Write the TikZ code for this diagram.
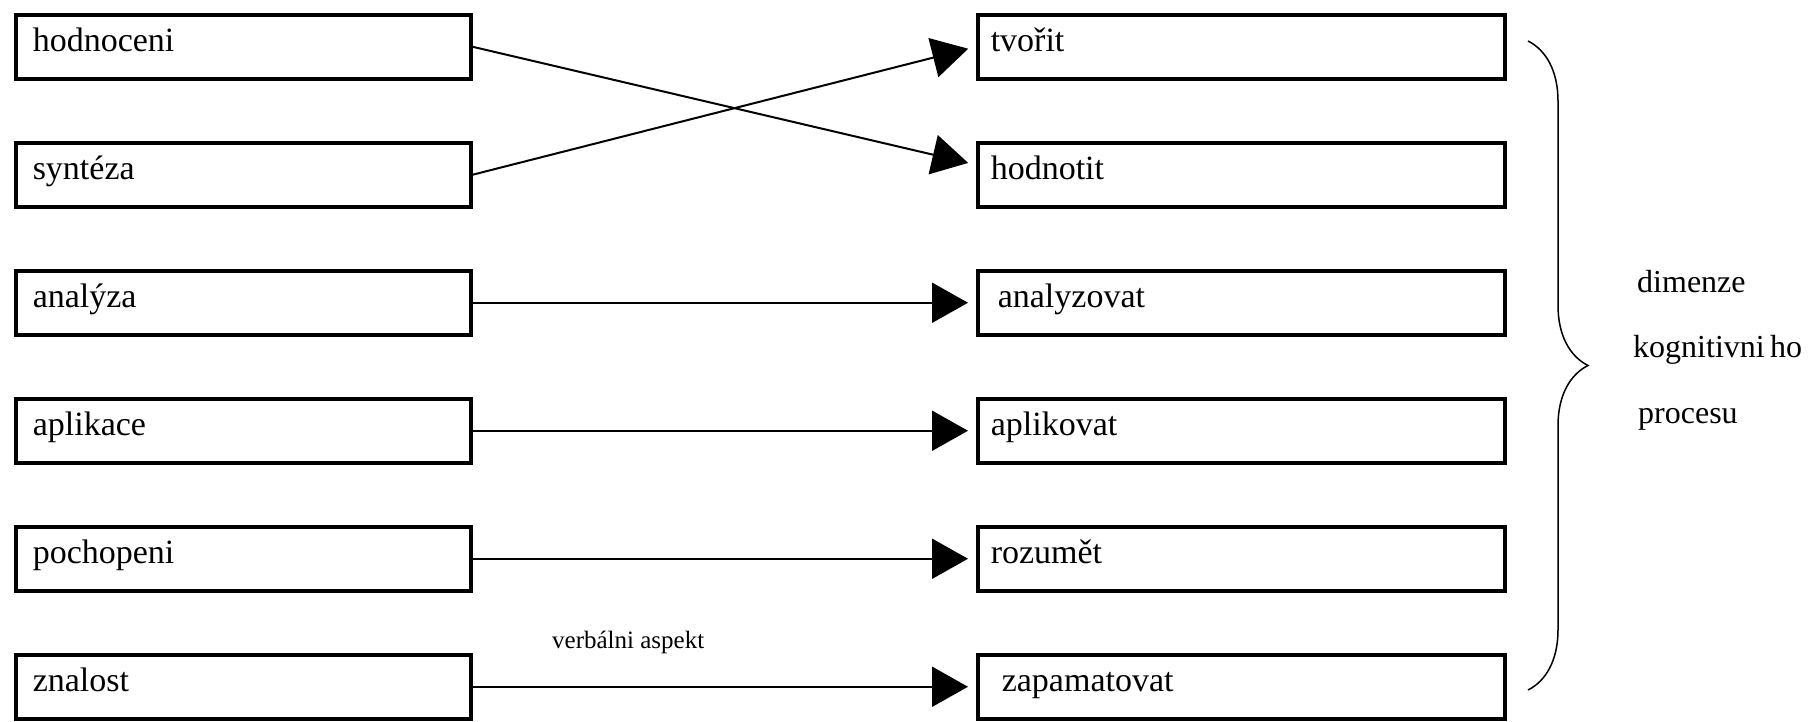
\documentclass[tikz,border=0pt]{standalone}
\usepackage{fontspec}
\setmainfont{Liberation Serif}
\usetikzlibrary{arrows.meta,decorations.pathreplacing}
\tikzset{
	box/.style={draw,rectangle,line width=3.5pt,anchor=north west,inner ysep=0pt,text height=37pt,text depth=27pt,align=left,font=\fontsize{34pt}{40pt}\selectfont},
	lbox/.style={box,inner xsep=17pt,text width=421pt},
	rbox/.style={box,inner xsep=13pt,text width=501pt},
	arr/.style={-{Triangle[length=36pt,width=40pt]},line width=2pt,shorten >=8pt},
	note/.style={anchor=base west,inner sep=0pt,font=\fontsize{32pt}{38pt}\selectfont}
}
\begin{document}
\begin{tikzpicture}[x=1pt,y=-1pt]
	\useasboundingbox (0,0) rectangle (1810,721);
	\node[lbox] (hodn) at (14,13) {hodnoceni};
	\node[lbox] (synt) at (14,141) {syntéza};
	\node[lbox] (anal) at (14,269) {analýza};
	\node[lbox] (apl) at (14,397) {aplikace};
	\node[lbox] (poch) at (14,525) {pochopeni};
	\node[lbox] (znal) at (14,653) {znalost};
	\node[rbox] (tvor) at (976,13) {tvořit};
	\node[rbox] (hodt) at (976,141) {hodnotit};
	\node[rbox] (analz) at (976,269) {\hspace*{7pt}analyzovat};
	\node[rbox] (aplk) at (976,397) {aplikovat};
	\node[rbox] (rozu) at (976,525) {rozumět};
	\node[rbox] (zapa) at (976,653) {\hspace*{11pt}zapamatovat};
	\draw[arr] (hodn.east) -- ([yshift=10pt]hodt.west);
	\draw[arr] (synt.east) -- (tvor.west);
	\draw[arr] (anal.east) -- (analz.west);
	\draw[arr] (apl.east) -- (aplk.west);
	\draw[arr] (poch.east) -- (rozu.west);
	\draw[arr] (znal.east) -- (zapa.west);
	\node[note,font=\fontsize{25pt}{30pt}\selectfont] (verb) at (552,648) {verbálni aspekt};
	% brace on the right
	\coordinate (btop) at (1528,41);
	\coordinate (bbot) at (1528,690);
	\draw[decorate,decoration={brace,amplitude=60pt},line width=1.5pt] (btop) -- (bbot);
	\node[note] (dim) at (1637,292) {dimenze};
	\node[note] (kog) at (1633,357) {kognitivni\,ho};
	\node[note] (proc) at (1638,423) {procesu};
\end{tikzpicture}
\end{document}
